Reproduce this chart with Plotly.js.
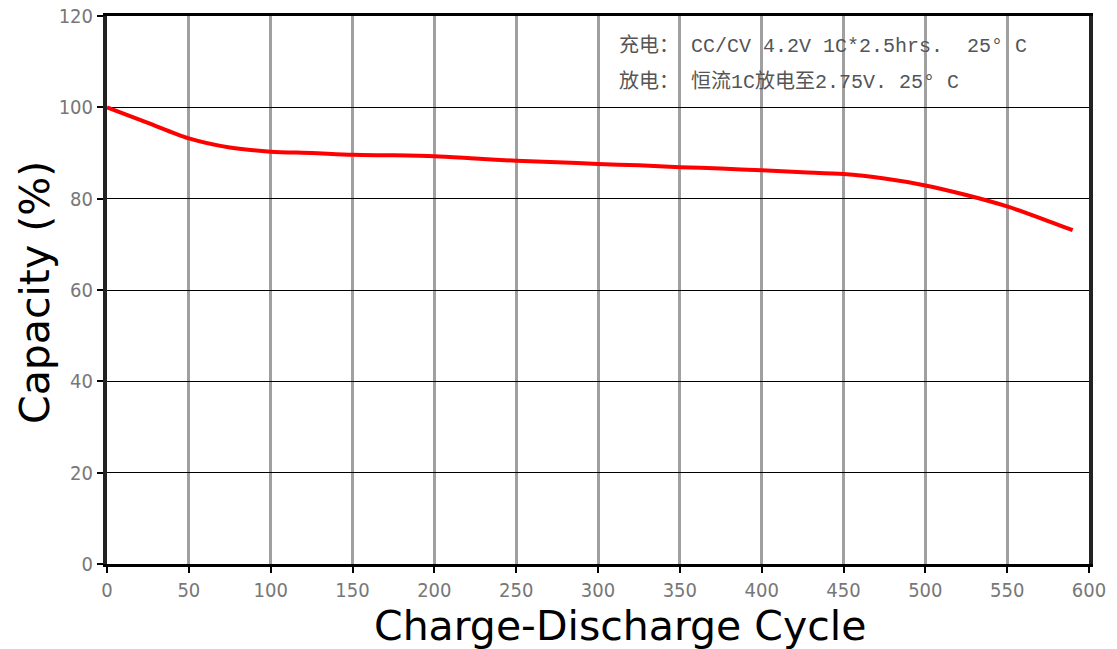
<!DOCTYPE html>
<html>
<head>
<meta charset="utf-8">
<script src="https://cdn.plot.ly/plotly-3.0.1.min.js"></script>
<style>html,body{margin:0;padding:0;background:#fff;}#chart{width:1117px;height:649px;}</style>
</head>
<body>
<div id="chart"></div>
<script>
const cycles = [0, 25, 50, 75, 100, 125, 150, 175, 200, 225, 250, 275, 300, 325, 350, 375, 400, 425, 450, 475, 500, 525, 550, 575, 590];
const capacity = [100, 96.6, 93.2, 91.2, 90.3, 90.0, 89.6, 89.5, 89.3, 88.8, 88.3, 88.0, 87.6, 87.3, 86.9, 86.6, 86.2, 85.8, 85.4, 84.4, 82.9, 80.8, 78.3, 75.1, 73.1];
const xTicks = [0, 50, 100, 150, 200, 250, 300, 350, 400, 450, 500, 550, 600];
const yTicks = [0, 20, 40, 60, 80, 100, 120];
const noteLines = ["充电： CC/CV 4.2V 1C*2.5hrs.  25° C", "放电： 恒流1C放电至2.75V. 25° C"];
const xTitle = 'Charge-Discharge Cycle';
const yTitle = 'Capacity (%)';

const trace = {
  x: cycles, y: capacity, type: 'scatter', mode: 'lines',
  line: {color: '#ff0000', width: 4, shape: 'spline', smoothing: 0.8},
  hoverinfo: 'skip'
};

const L = 107, R = 1089, T = 16, B = 564;
const px = v => (v - L) / (R - L);
const py = v => (B - v) / (B - T);
const tickFont = {size: 20, color: '#777', family: 'DejaVu Sans Condensed, DejaVu Sans'};

const annotations = noteLines.map((t, i) => ({
  text: t, xref: 'paper', yref: 'paper',
  x: px(617), y: py(46 + i * 36),
  xanchor: 'left', yanchor: 'middle', showarrow: false,
  font: {size: 20, color: '#555', family: 'Liberation Mono, Noto Sans CJK SC'}
}));
annotations.push({
  text: xTitle, xref: 'paper', yref: 'paper', x: px(620), y: py(626),
  xanchor: 'center', yanchor: 'middle', showarrow: false,
  font: {size: 41, color: '#000', family: 'DejaVu Sans'}
});
annotations.push({
  text: yTitle, xref: 'paper', yref: 'paper', x: px(35), y: py(293),
  xanchor: 'center', yanchor: 'middle', showarrow: false, textangle: -90,
  font: {size: 41, color: '#000', family: 'DejaVu Sans'}
});

const layout = {
  width: 1117, height: 649,
  margin: {l: L, r: 1117 - R, t: T, b: 649 - B},
  paper_bgcolor: '#fff', plot_bgcolor: '#fff',
  showlegend: false,
  font: {family: 'DejaVu Sans, sans-serif'},
  xaxis: {
    range: [0, 600], tickvals: xTicks, ticktext: xTicks.map(String),
    showgrid: true, gridcolor: '#a0a0a0', gridwidth: 3,
    zeroline: false,
    showline: true, linecolor: '#000', linewidth: 3, mirror: true,
    ticks: 'outside', ticklen: 6, tickwidth: 2, tickcolor: '#000',
    tickfont: tickFont
  },
  yaxis: {
    range: [0, 120], tickvals: yTicks, ticktext: yTicks.map(String),
    showgrid: true, gridcolor: '#000', gridwidth: 1,
    zeroline: false,
    showline: true, linecolor: '#222', linewidth: 4, mirror: true,
    ticks: 'outside', ticklen: 6, tickwidth: 2, tickcolor: '#000',
    tickfont: tickFont
  },
  annotations: annotations
};

Plotly.newPlot('chart', [trace], layout, {displayModeBar: false, staticPlot: true});
</script>
</body>
</html>
